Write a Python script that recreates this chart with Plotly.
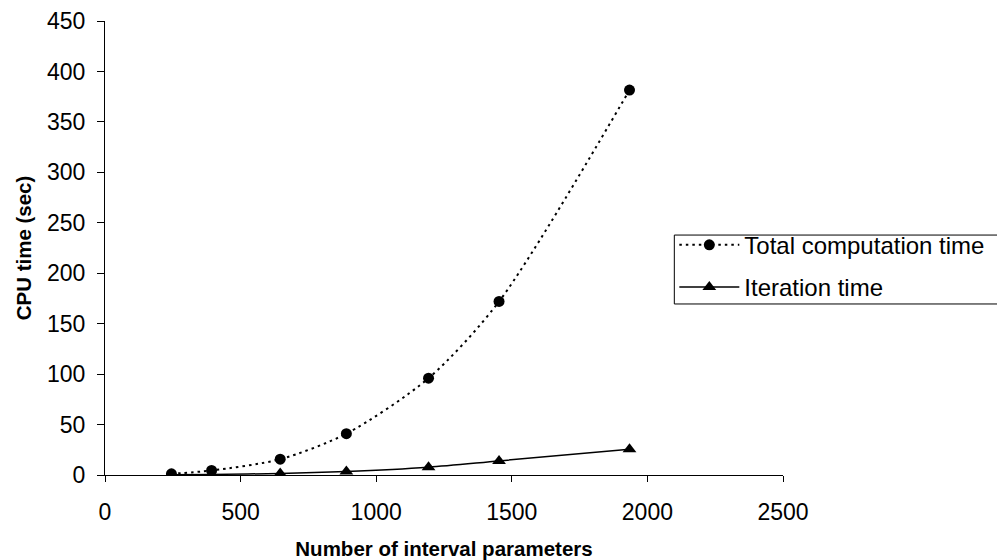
import plotly.graph_objects as go

num_params = [245, 393, 646, 890, 1193, 1453, 1934]
total_time = [1.2, 4.5, 15.7, 41, 96, 172, 381.5]
iteration_time = [0.3, 0.6, 1.5, 3.5, 7.8, 14, 25.5]

x_ticks = [0, 500, 1000, 1500, 2000, 2500]
y_ticks = [0, 50, 100, 150, 200, 250, 300, 350, 400, 450]

FONT = "Liberation Sans, Arial, sans-serif"

fig = go.Figure()
fig.add_trace(go.Scatter(
    x=num_params, y=total_time, name="Total computation time",
    mode="lines+markers", legendgroup="a",
    line=dict(color="black", width=2, dash="2.5px,4px", shape="spline", smoothing=0.8),
    marker=dict(symbol="circle", size=11, color="black"),
))
fig.add_trace(go.Scatter(
    x=num_params, y=iteration_time, name="Iteration time",
    mode="lines+markers", legendgroup="b",
    line=dict(color="black", width=1.5, shape="spline", smoothing=0.8),
    marker=dict(symbol="triangle-up", size=12, color="black"),
))

# legend frame (drawn as a paper-anchored rectangle)
fig.add_shape(type="rect", xref="paper", yref="paper",
              x0=0.8397, x1=1.5, y0=0.3767, y1=0.5285,
              line=dict(color="black", width=1), fillcolor="rgba(0,0,0,0)",
              layer="above")

fig.update_layout(
    width=997, height=560,
    margin=dict(l=104.5, r=214.3, t=20.7, b=84.8, autoexpand=False),
    paper_bgcolor="white", plot_bgcolor="white",
    font=dict(family=FONT, color="black", size=23),
    showlegend=True,
    legend=dict(
        x=0.8397, y=0.5556, xanchor="left", yanchor="top",
        borderwidth=0, bgcolor="rgba(0,0,0,0)",
        font=dict(family=FONT, size=24, color="black"),
        itemwidth=60, tracegroupgap=8, traceorder="grouped",
    ),
    xaxis=dict(
        range=[0, 2500], tickvals=x_ticks, ticktext=[str(v) for v in x_ticks],
        showline=True, linecolor="black", linewidth=1,
        ticks="outside", ticklen=6, tickcolor="black", tickwidth=1,
        showgrid=False, zeroline=False,
        tickfont=dict(size=23), ticklabelstandoff=10,
        title=dict(text="<b>Number of interval parameters</b>", font=dict(size=20.5), standoff=18),
    ),
    yaxis=dict(
        range=[0, 450], tickvals=y_ticks, ticktext=[str(v) for v in y_ticks],
        showline=True, linecolor="black", linewidth=1,
        ticks="outside", ticklen=7, tickcolor="black", tickwidth=1,
        showgrid=False, zeroline=False,
        tickfont=dict(size=23), ticklabelstandoff=7,
        title=dict(text="<b>CPU time (sec)</b>", font=dict(size=20.5), standoff=9),
    ),
)

fig.write_html(
    "out.html",
    config={"displayModeBar": False},
    post_script="document.body.style.margin='0';document.body.style.overflow='hidden';",
)
